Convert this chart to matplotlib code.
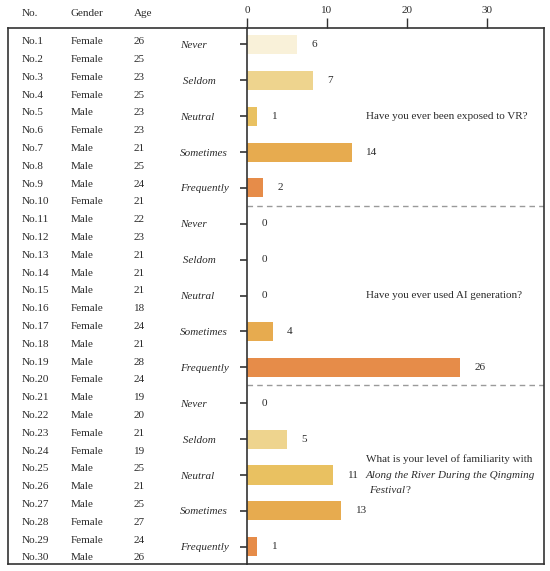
import matplotlib
matplotlib.use("Agg")
import matplotlib.pyplot as plt

# ---------------- data ----------------
participants = [f"No.{i}" for i in range(1, 31)]
genders = ["Female", "Female", "Female", "Female", "Male", "Female", "Male", "Male", "Male", "Female",
           "Male", "Male", "Male", "Male", "Male", "Female", "Female", "Male", "Male", "Female",
           "Male", "Male", "Female", "Female", "Male", "Male", "Male", "Female", "Female", "Male"]
ages = [26, 25, 23, 25, 23, 23, 21, 25, 24, 21,
        22, 23, 21, 21, 21, 18, 24, 21, 28, 24,
        19, 20, 21, 19, 25, 21, 25, 27, 24, 26]
table_headers = ["No.", "Gender", "Age"]

levels = ["Never", " Seldom", "Neutral", "Sometimes", "Frequently"]
questions = ["Have you ever been exposed to VR?", "Have you ever used AI generation?",
             "What is your level of familiarity with"]
q3_italic = ["Along the River During the Qingming", "Festival"]
# bar lengths as drawn, and the count labels printed next to them
vr_bars = [6.3, 8.2, 1.3, 13.1, 2.0]
vr_labels = ["6", "7", "1", "14", "2"]
ai_bars = [0, 0, 0, 3.2, 26.6]
ai_labels = ["0", "0", "0", "4", "26"]
qm_bars = [0, 5.0, 10.8, 11.8, 1.3]
qm_labels = ["0", "5", "11", "13", "1"]
x_ticks = [0, 10, 20, 30]

level_colors = ["#F9F1D9", "#EED48E", "#E9C161", "#E7AB4F", "#E68C49"]
text_color = "#2b2b2b"
line_color = "#333333"

plt.rcParams["font.family"] = ["Liberation Serif", "DejaVu Serif"]
plt.rcParams["font.size"] = 8

W, H = 550, 571
fig = plt.figure(figsize=(W / 100, H / 100), dpi=100)

top_px, bot_px = 27.5, 564.0
left_px, axis_px, right_px = 8.0, 247.0, 544.0

def fy(p):
    return 1 - p / H

# ---------------- table axes ----------------
tax = fig.add_axes([left_px / W, fy(bot_px), (axis_px - left_px) / W, (bot_px - top_px) / H])
row0, row_step = 41.7, 17.8
tax.set_ylim((bot_px - row0) / row_step, (top_px - row0) / row_step)
tax.set_xlim(left_px, axis_px)
tax.set_xticks([])
tax.set_yticks([])
for s in ["left", "top", "bottom"]:
    tax.spines[s].set_color(line_color)
    tax.spines[s].set_linewidth(1.2)
tax.spines["right"].set_visible(False)
tax.patch.set_alpha(0)

col_x = [22, 70.3, 133.7]
header_y = (13.3 - row0) / row_step
for cx, h in zip(col_x, table_headers):
    tax.text(cx, header_y, h, ha="left", va="center", color=text_color, fontsize=8, clip_on=False)
for i, (p, g, a) in enumerate(zip(participants, genders, ages)):
    for cx, v in zip(col_x, [p, g, str(a)]):
        tax.text(cx, i, v, ha="left", va="center", color=text_color, fontsize=8)

# ---------------- bar axes ----------------
ax = fig.add_axes([axis_px / W, fy(bot_px), (right_px - axis_px) / W, (bot_px - top_px) / H])
ax.patch.set_alpha(0)
groups = [(vr_bars, vr_labels), (ai_bars, ai_labels), (qm_bars, qm_labels)]
ytick_pos, ytick_lab = [], []
for g, (bars, labs) in enumerate(groups):
    for k, (b, lab) in enumerate(zip(bars, labs)):
        y = g * 5 + k
        ytick_pos.append(y)
        ytick_lab.append(levels[k])
        if b > 0:
            ax.barh(y, b, height=0.53, color=level_colors[k], edgecolor="none", zorder=2)
        ax.annotate(lab, xy=(b, y), xytext=(10.5, 0), textcoords="offset points",
                    ha="left", va="center", color=text_color, fontsize=8)

ax.set_xlim(0, (right_px - axis_px) / 8.0)
ax.set_ylim(14.48, -0.47)
ax.set_xticks(x_ticks)
ax.xaxis.tick_top()
ax.tick_params(axis="x", direction="out", length=7, width=1.0, color=line_color,
               labelcolor=text_color, labelsize=8, pad=2)
ax.set_yticks(ytick_pos)
ax.set_yticklabels(ytick_lab, fontstyle="italic", fontsize=8, color=text_color)
ax.tick_params(axis="y", direction="out", length=5, width=1.2, color=line_color, pad=43)
for lbl in ax.get_yticklabels():
    lbl.set_horizontalalignment("left")
for s in ax.spines.values():
    s.set_color(line_color)
    s.set_linewidth(1.2)

for yb in [4.5, 9.5]:
    ax.axhline(yb, color="#9a9a9a", linestyle=(0, (4, 3)), linewidth=1.0, zorder=1)

qx = (366 - axis_px) / 8.0
ax.text(qx, 2, questions[0], ha="left", va="center", color=text_color, fontsize=8)
ax.text(qx, 7, questions[1], ha="left", va="center", color=text_color, fontsize=8)
ax.annotate(questions[2], xy=(qx, 12), xytext=(0, 11.5), textcoords="offset points",
            ha="left", va="center", color=text_color, fontsize=8)
ax.annotate(q3_italic[0], xy=(qx, 12), xytext=(0, 0), textcoords="offset points",
            ha="left", va="center", color=text_color, fontsize=8, fontstyle="italic")
fest = ax.annotate(q3_italic[1], xy=(qx, 12), xytext=(2, -11.5), textcoords="offset points",
                   ha="left", va="center", color=text_color, fontsize=8, fontstyle="italic")
ax.annotate("?", xy=(1, 0.5), xycoords=fest, xytext=(0.5, 0), textcoords="offset points",
            ha="left", va="center", color=text_color, fontsize=8)

fig.savefig("out.png", dpi=100, facecolor="white")
